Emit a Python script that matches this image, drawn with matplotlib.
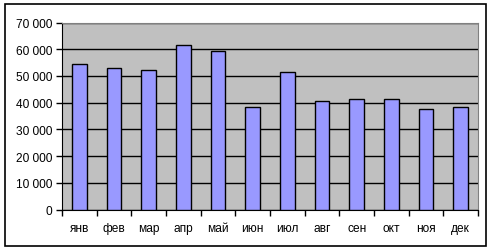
import matplotlib
matplotlib.use('Agg')
import matplotlib.pyplot as plt
from matplotlib.patches import Rectangle

# monthly values
months = ['янв', 'фев', 'мар', 'апр', 'май', 'июн',
          'июл', 'авг', 'сен', 'окт', 'ноя', 'дек']
values = [54600, 53150, 52400, 61400, 59150, 38550,
          51300, 40800, 41200, 41200, 37800, 38550]
yticks = [0, 10000, 20000, 30000, 40000, 50000, 60000, 70000]

plt.rcParams['font.family'] = ['Liberation Sans', 'DejaVu Sans']

fig = plt.figure(figsize=(4.92, 2.51), dpi=100)
ax = fig.add_axes([62 / 492, 1 - 210.5 / 251, (478 - 62) / 492, (210.5 - 23.5) / 251])

ax.set_facecolor('#C0C0C0')
x = list(range(len(months)))
ax.bar(x, values, width=0.43, color='#9999FF', edgecolor='black', linewidth=1, zorder=3)

ax.set_xlim(-0.5, len(months) - 0.5)
ax.set_ylim(0, 70000)
ax.set_yticks(yticks)
ax.set_yticklabels([f'{v:,}'.replace(',', ' ') for v in yticks], fontsize=8.6)
ax.yaxis.grid(True, color='black', linewidth=1, zorder=1)

# category labels between the boundary ticks
ax.set_xticks(x)
ax.set_xticklabels(months, fontsize=8.6)
ax.tick_params(axis='x', length=0, pad=9)
ax.set_xticks([i - 0.5 for i in range(len(months) + 1)], minor=True)
ax.tick_params(axis='x', which='minor', length=4, direction='out', width=1)
ax.tick_params(axis='y', length=4, direction='out', width=1, pad=3)

for side in ['top', 'right']:
    ax.spines[side].set_color('#808080')
ax.spines['left'].set_color('black')
ax.spines['bottom'].set_color('black')

# outer chart frame
fig.patches.append(Rectangle((5 / 492, 4.5 / 251), 480.5 / 492, 242 / 251,
                             transform=fig.transFigure, fill=False,
                             edgecolor='black', linewidth=1.2))

fig.savefig('out.png', dpi=100)
